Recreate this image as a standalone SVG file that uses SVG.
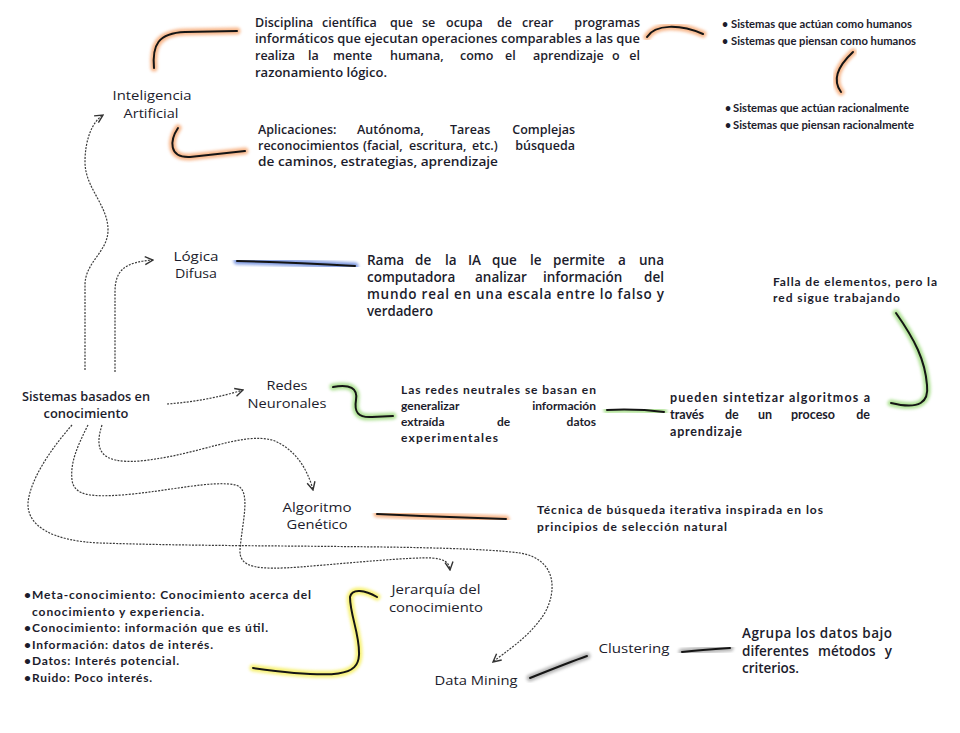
<svg xmlns="http://www.w3.org/2000/svg" width="960" height="733" viewBox="0 0 960 733">
<defs>
<style>
.m{font-family:"Open Sans","DejaVu Sans",sans-serif;font-weight:600;fill:#1c1c2c}
.c{font-family:Lato,"Open Sans",sans-serif;font-weight:700;fill:#1c1c2c}
.lbl{font-size:13.5px;text-anchor:middle;font-weight:500}
.e{text-anchor:end}
.dash{fill:none;stroke:#3a3a3a;stroke-width:1.2;stroke-dasharray:2 1.3;marker-end:url(#arr)}
.ink{fill:none;stroke:#151515;stroke-width:2;stroke-linecap:round}
.glow{fill:none;stroke-width:7;stroke-linecap:round;opacity:.7;filter:url(#blur)}
.or{stroke:#f59a5c}
.bl{stroke:#4f74d6}
.gr{stroke:#8fd66a}
.ye{stroke:#f4ec3c}
.gy{stroke:#9a9a9a}
</style>
<filter id="blur" x="-20%" y="-20%" width="140%" height="140%"><feGaussianBlur stdDeviation="1.6"/></filter>
<marker id="arr" viewBox="0 0 10 10" refX="9" refY="5" markerWidth="10" markerHeight="10" markerUnits="userSpaceOnUse" orient="auto"><path d="M1,1 L9,5 L1,9" fill="none" stroke="#333" stroke-width="1.4"/></marker>
</defs>
<rect width="960" height="733" fill="#fff"/>

<g id="connectors">
  <path class="dash" d="M85,370 L85,285 C85,262 108,252 108,230 C108,205 85,188 85,162 C85,140 92,122 103,115"/>
  <path class="dash" d="M115,372 L115,292 C115,270 125,262 153,260"/>
  <path class="dash" d="M167,404 C195,402 220,397 243,390"/>
  <path class="dash" d="M102,425 C94,450 100,464 140,461 C200,455 240,432 272,440 C295,448 308,470 313,490"/>
  <path class="dash" d="M88,425 C78,445 70,462 72,480 C74,496 92,497 122,495 C170,491 212,480 236,485 C252,490 242,522 240,550 C239,568 258,570 300,567 C350,563 410,557 432,558 C444,559 449,562 450,570"/>
  <path class="dash" d="M72,425 C50,450 30,480 28,503 C27,526 52,541 100,543 C250,548 450,544 520,553 C562,560 556,600 540,620 C525,640 505,652 493,662"/>

  <path class="glow or" d="M154,68 C152,45 158,33 185,32 L237,31"/>
  <path class="ink" d="M154,68 C152,45 158,33 185,32 L237,31"/>
  <path class="glow or" d="M178,128 C170,140 168,158 190,157 L245,151"/>
  <path class="ink" d="M178,128 C170,140 168,158 190,157 L245,151"/>
  <path class="glow or" d="M647,37 C655,24 680,24 703,34"/>
  <path class="ink" d="M647,37 C655,24 680,24 703,34"/>
  <path class="glow or" d="M853,52 C838,66 832,80 841,92"/>
  <path class="ink" d="M853,52 C838,66 832,80 841,92"/>
  <path class="glow bl" d="M237,261 C280,262 320,264 355,266"/>
  <path class="ink" d="M237,261 C280,262 320,264 355,266"/>
  <path class="glow gr" d="M333,387 C350,384 358,388 356,400 C354,412 358,418 372,417 L393,416"/>
  <path class="ink" d="M333,387 C350,384 358,388 356,400 C354,412 358,418 372,417 L393,416"/>
  <path class="glow gr" d="M607,410 C630,409 648,410 664,412"/>
  <path class="ink" d="M607,410 C630,409 648,410 664,412"/>
  <path class="glow gr" d="M896,313 C915,340 925,360 927,385 C929,402 920,410 891,403"/>
  <path class="ink" d="M896,313 C915,340 925,360 927,385 C929,402 920,410 891,403"/>
  <path class="glow or" d="M377,514 C420,516 470,518 506,519"/>
  <path class="ink" d="M377,514 C420,516 470,518 506,519"/>
  <path class="glow ye" d="M377,597 C365,590 352,588 350,597 C350,615 360,635 359,655 C358,675 340,680 253,668"/>
  <path class="ink" d="M377,597 C365,590 352,588 350,597 C350,615 360,635 359,655 C358,675 340,680 253,668"/>
  <path class="glow gy" d="M530,678 C550,670 570,662 587,656"/>
  <path class="ink" d="M530,678 C550,670 570,662 587,656"/>
  <path class="glow gy" d="M682,652 C700,650 715,649 730,648"/>
  <path class="ink" d="M682,652 C700,650 715,649 730,648"/>
</g>

<g id="node-ia">
  <text class="m lbl" x="152" y="99.5" textLength="79" lengthAdjust="spacingAndGlyphs">Inteligencia</text>
  <text class="m lbl" x="151" y="118" textLength="55" lengthAdjust="spacingAndGlyphs">Artificial</text>
</g>

<g id="node-ia-def" class="m" font-size="12.5">
  <text y="26.5"><tspan x="255">Disciplina</tspan><tspan x="322">científica</tspan><tspan x="390">que</tspan><tspan x="422">se</tspan><tspan x="446">ocupa</tspan><tspan x="497">de</tspan><tspan x="522">crear</tspan></text>
  <text class="e" x="640" y="26.5">programas</text>
  <text x="255" y="43" textLength="385" lengthAdjust="spacingAndGlyphs">informáticos que ejecutan operaciones comparables a las que</text>
  <text y="60"><tspan x="255">realiza</tspan><tspan x="308">la</tspan><tspan x="333">mente</tspan><tspan x="390">humana,</tspan><tspan x="460">como</tspan><tspan x="505">el</tspan><tspan x="533">aprendizaje</tspan><tspan x="612">o</tspan></text>
  <text class="e" x="640" y="60">el</text>
  <text x="255" y="76.5" textLength="132" lengthAdjust="spacingAndGlyphs">razonamiento lógico.</text>
</g>

<g id="node-ia-types" class="c" font-size="10.5">
  <text y="28"><tspan x="722">•</tspan><tspan x="731" textLength="181" lengthAdjust="spacingAndGlyphs">Sistemas que actúan como humanos</tspan></text>
  <text y="45"><tspan x="722">•</tspan><tspan x="731" textLength="185" lengthAdjust="spacingAndGlyphs">Sistemas que piensan como humanos</tspan></text>
  <text y="112"><tspan x="725">•</tspan><tspan x="733" textLength="176" lengthAdjust="spacingAndGlyphs">Sistemas que actúan racionalmente</tspan></text>
  <text y="129"><tspan x="725">•</tspan><tspan x="733" textLength="181" lengthAdjust="spacingAndGlyphs">Sistemas que piensan racionalmente</tspan></text>
</g>

<g id="node-ia-apps" class="m" font-size="12.5">
  <text y="134"><tspan x="258">Aplicaciones:</tspan><tspan x="357">Autónoma,</tspan><tspan x="450">Tareas</tspan></text>
  <text class="e" x="575" y="134">Complejas</text>
  <text y="150"><tspan x="258">reconocimientos</tspan><tspan x="363">(facial,</tspan><tspan x="409">escritura,</tspan><tspan x="472">etc.)</tspan></text>
  <text class="e" x="575" y="150">búsqueda</text>
  <text x="258" y="166" textLength="240" lengthAdjust="spacingAndGlyphs">de caminos, estrategias, aprendizaje</text>
</g>

<g id="node-logica">
  <text class="m lbl" x="196" y="260.5" textLength="45" lengthAdjust="spacingAndGlyphs">Lógica</text>
  <text class="m lbl" x="196" y="277.5" textLength="42" lengthAdjust="spacingAndGlyphs">Difusa</text>
</g>

<g id="node-logica-def" class="m" font-size="13.5" font-weight="500">
  <text y="265"><tspan x="367">Rama</tspan><tspan x="415">de</tspan><tspan x="445">la</tspan><tspan x="468">IA</tspan><tspan x="492">que</tspan><tspan x="530">le</tspan><tspan x="553">permite</tspan><tspan x="618">a</tspan></text>
  <text class="e" x="664" y="265">una</text>
  <text y="282"><tspan x="367">computadora</tspan><tspan x="475">analizar</tspan><tspan x="543">información</tspan></text>
  <text class="e" x="664" y="282">del</text>
  <text x="367" y="299" textLength="297" lengthAdjust="spacing">mundo real en una escala entre lo falso y</text>
  <text x="367" y="316" textLength="66" lengthAdjust="spacingAndGlyphs">verdadero</text>
</g>

<g id="node-sbc">
  <text class="m" font-size="12.5" font-weight="500" text-anchor="middle" x="86" y="400.5" textLength="128" lengthAdjust="spacingAndGlyphs">Sistemas basados en</text>
  <text class="m" font-size="12.5" font-weight="500" text-anchor="middle" x="86" y="417.5" textLength="85" lengthAdjust="spacingAndGlyphs">conocimiento</text>
</g>

<g id="node-redes">
  <text class="m lbl" x="287" y="389.5" textLength="41" lengthAdjust="spacingAndGlyphs">Redes</text>
  <text class="m lbl" x="287" y="407.5" textLength="79" lengthAdjust="spacingAndGlyphs">Neuronales</text>
</g>

<g id="node-redes-def" class="c" font-size="12">
  <text x="401" y="394" textLength="195" lengthAdjust="spacing">Las redes neutrales se basan en</text>
  <text x="401" y="410">generalizar</text>
  <text class="e" x="596" y="410">información</text>
  <text y="426"><tspan x="401">extraída</tspan><tspan x="497">de</tspan></text>
  <text class="e" x="596" y="426">datos</text>
  <text x="401" y="442" textLength="97" lengthAdjust="spacing">experimentales</text>
</g>

<g id="node-redes-sint" class="c" font-size="12.5">
  <text x="670" y="402" textLength="200" lengthAdjust="spacing">pueden sintetizar algoritmos a</text>
  <text y="419"><tspan x="670">través</tspan><tspan x="725">de</tspan><tspan x="758">un</tspan><tspan x="791">proceso</tspan></text>
  <text class="e" x="870" y="419">de</text>
  <text x="670" y="436" textLength="72" lengthAdjust="spacing">aprendizaje</text>
</g>

<g id="node-redes-falla" class="c" font-size="12">
  <text x="773" y="286" textLength="164" lengthAdjust="spacing">Falla de elementos, pero la</text>
  <text x="773" y="302" textLength="127" lengthAdjust="spacing">red sigue trabajando</text>
</g>

<g id="node-algoritmo">
  <text class="m lbl" x="317" y="511.5" textLength="69" lengthAdjust="spacingAndGlyphs">Algoritmo</text>
  <text class="m lbl" x="317" y="528.5" textLength="61" lengthAdjust="spacingAndGlyphs">Genético</text>
</g>

<g id="node-algoritmo-def" class="c" font-size="12">
  <text x="537" y="514" textLength="286" lengthAdjust="spacing">Técnica de búsqueda iterativa inspirada en los</text>
  <text x="537" y="531" textLength="190" lengthAdjust="spacing">principios de selección natural</text>
</g>

<g id="node-jerarquia">
  <text class="m lbl" x="436" y="593.5" textLength="89" lengthAdjust="spacingAndGlyphs">Jerarquía del</text>
  <text class="m lbl" x="436" y="611.5" textLength="94" lengthAdjust="spacingAndGlyphs">conocimiento</text>
</g>

<g id="node-jerarquia-list" class="c" font-size="12">
  <text y="599"><tspan x="24">•</tspan><tspan x="32" textLength="279" lengthAdjust="spacing">Meta-conocimiento: Conocimiento acerca del</tspan></text>
  <text x="32" y="616" textLength="172" lengthAdjust="spacing">conocimiento y experiencia.</text>
  <text y="632"><tspan x="24">•</tspan><tspan x="32" textLength="236" lengthAdjust="spacing">Conocimiento: información que es útil.</tspan></text>
  <text y="649"><tspan x="24">•</tspan><tspan x="32" textLength="181" lengthAdjust="spacing">Información: datos de interés.</tspan></text>
  <text y="665"><tspan x="24">•</tspan><tspan x="32" textLength="147" lengthAdjust="spacing">Datos: Interés potencial.</tspan></text>
  <text y="682"><tspan x="24">•</tspan><tspan x="32" textLength="120" lengthAdjust="spacing">Ruido: Poco interés.</tspan></text>
</g>

<g id="node-datamining">
  <text class="m lbl" x="476" y="684.5" textLength="83" lengthAdjust="spacingAndGlyphs">Data Mining</text>
</g>

<g id="node-clustering">
  <text class="m lbl" x="634" y="652.5" textLength="71" lengthAdjust="spacingAndGlyphs">Clustering</text>
</g>

<g id="node-clustering-def" class="m" font-size="13.5" font-weight="500">
  <text x="742" y="638" textLength="150" lengthAdjust="spacing">Agrupa los datos bajo</text>
  <text y="656"><tspan x="742">diferentes</tspan><tspan x="818">métodos</tspan></text>
  <text class="e" x="892" y="656">y</text>
  <text x="742" y="673" textLength="57" lengthAdjust="spacing">criterios.</text>
</g>
</svg>
